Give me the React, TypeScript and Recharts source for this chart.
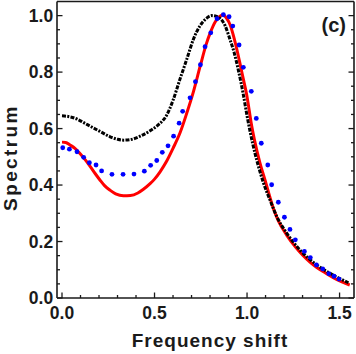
import React from 'react';
import { ComposedChart, Line, XAxis, YAxis } from 'recharts';

// ---- data ----
const redX = [0, 0.02, 0.043, 0.07, 0.097, 0.125, 0.151, 0.18, 0.205, 0.23, 0.259, 0.29, 0.332, 0.37, 0.41, 0.44, 0.476, 0.5, 0.53, 0.566, 0.6, 0.638, 0.674, 0.71, 0.746, 0.78, 0.8, 0.83, 0.854, 0.87, 0.89, 0.91, 0.926, 0.945, 0.962, 0.98, 0.998, 1.025, 1.04, 1.07, 1.097, 1.142, 1.17, 1.215, 1.26, 1.3, 1.34, 1.377, 1.42, 1.466, 1.51, 1.555];
const redY = [0.552, 0.551, 0.542, 0.53, 0.512, 0.49, 0.467, 0.44, 0.418, 0.398, 0.382, 0.369, 0.362, 0.363, 0.372, 0.385, 0.405, 0.421, 0.447, 0.485, 0.53, 0.585, 0.654, 0.73, 0.819, 0.9, 0.937, 0.98, 0.998, 1.003, 0.99, 0.965, 0.93, 0.88, 0.83, 0.775, 0.72, 0.61, 0.56, 0.478, 0.418, 0.318, 0.272, 0.222, 0.182, 0.152, 0.127, 0.108, 0.09, 0.072, 0.058, 0.046];

const blackX = [0, 0.04, 0.08, 0.12, 0.151, 0.205, 0.26, 0.3, 0.333, 0.37, 0.422, 0.476, 0.52, 0.566, 0.6, 0.638, 0.674, 0.71, 0.746, 0.78, 0.81, 0.835, 0.854, 0.881, 0.908, 0.93, 0.953, 0.98, 1.0, 1.03, 1.06, 1.09, 1.124, 1.161, 1.215, 1.286, 1.377, 1.466, 1.548];
const blackY = [0.645, 0.642, 0.634, 0.62, 0.609, 0.59, 0.571, 0.562, 0.559, 0.561, 0.573, 0.592, 0.613, 0.648, 0.7, 0.776, 0.845, 0.916, 0.964, 0.99, 1.0, 0.997, 0.99, 0.965, 0.915, 0.87, 0.807, 0.72, 0.645, 0.548, 0.47, 0.405, 0.347, 0.288, 0.229, 0.17, 0.117, 0.081, 0.054];

const blueX = [0.004, 0.04, 0.081, 0.117, 0.148, 0.184, 0.214, 0.27, 0.33, 0.389, 0.445, 0.479, 0.512, 0.542, 0.573, 0.603, 0.633, 0.652, 0.692, 0.721, 0.748, 0.773, 0.804, 0.838, 0.872, 0.903, 0.923, 0.957, 0.98, 1.023, 1.05, 1.077, 1.112, 1.133, 1.169, 1.202, 1.232, 1.261, 1.31, 1.342, 1.375, 1.409, 1.442, 1.47, 1.497];
const blueY = [0.532, 0.527, 0.518, 0.498, 0.479, 0.471, 0.45, 0.438, 0.438, 0.439, 0.449, 0.47, 0.487, 0.516, 0.539, 0.573, 0.619, 0.661, 0.709, 0.766, 0.826, 0.89, 0.939, 0.989, 1.003, 0.996, 0.963, 0.896, 0.817, 0.732, 0.636, 0.548, 0.471, 0.401, 0.339, 0.286, 0.243, 0.206, 0.165, 0.143, 0.117, 0.103, 0.086, 0.077, 0.067];

const xMajorTicks = [0, 0.5, 1.0, 1.5];
const xMajorLabels = ['0.0', '0.5', '1.0', '1.5'];
const xMinorTicks = [0, 0.1, 0.2, 0.3, 0.4, 0.5, 0.6, 0.7, 0.8, 0.9, 1.0, 1.1, 1.2, 1.3, 1.4, 1.5];
const yMajorTicks = [0, 0.2, 0.4, 0.6, 0.8, 1.0];
const yMajorLabels = ['0.0', '0.2', '0.4', '0.6', '0.8', '1.0'];
const yMinorTicks = [0, 0.05, 0.1, 0.15, 0.2, 0.25, 0.3, 0.35, 0.4, 0.45, 0.5, 0.55, 0.6, 0.65, 0.7, 0.75, 0.8, 0.85, 0.9, 0.95, 1.0];

const xDomain: [number, number] = [-0.027, 1.578];
const yDomain: [number, number] = [0, 1.05];

const redData = redX.map((x, i) => ({ x, y: redY[i] }));
const blackData = blackX.map((x, i) => ({ x, y: blackY[i] }));
const blueData = blueX.map((x, i) => ({ x, y: blueY[i] }));

const FRAME = '#1a1a1a';
const FONT = '"Liberation Sans", Arial, Helvetica, sans-serif';
const MAJOR_LEN = 5.5;
const MINOR_LEN = 3;

function majorIndex(list: number[], v: number) {
  return list.findIndex((m) => Math.abs(m - v) < 1e-9);
}

function BottomTick(props: any) {
  const { x, y, payload } = props;
  const idx = majorIndex(xMajorTicks, payload.value);
  const len = idx >= 0 ? MAJOR_LEN : MINOR_LEN;
  return (
    <g>
      <line x1={x} x2={x} y1={y} y2={y - len} stroke={FRAME} strokeWidth={1.3} />
      {idx >= 0 && (
        <text x={x} y={y + 21.2} textAnchor="middle" fontFamily={FONT} fontWeight="bold" fontSize={17.5} fill={FRAME}>
          {xMajorLabels[idx]}
        </text>
      )}
    </g>
  );
}

function TopTick(props: any) {
  const { x, y, payload } = props;
  const idx = majorIndex(xMajorTicks, payload.value);
  const len = idx >= 0 ? MAJOR_LEN : MINOR_LEN;
  return <line x1={x} x2={x} y1={y} y2={y + len} stroke={FRAME} strokeWidth={1.3} />;
}

function LeftTick(props: any) {
  const { x, y, payload } = props;
  const idx = majorIndex(yMajorTicks, payload.value);
  const len = idx >= 0 ? MAJOR_LEN : MINOR_LEN;
  return (
    <g>
      <line x1={x} x2={x + len} y1={y} y2={y} stroke={FRAME} strokeWidth={1.3} />
      {idx >= 0 && (
        <text x={x - 3.8} y={y + 6.3} textAnchor="end" fontFamily={FONT} fontWeight="bold" fontSize={17.5} fill={FRAME}>
          {yMajorLabels[idx]}
        </text>
      )}
    </g>
  );
}

function RightTick(props: any) {
  const { x, y, payload } = props;
  const idx = majorIndex(yMajorTicks, payload.value);
  const len = idx >= 0 ? MAJOR_LEN : MINOR_LEN;
  return <line x1={x} x2={x - len} y1={y} y2={y} stroke={FRAME} strokeWidth={1.3} />;
}

const axisLine = { stroke: FRAME, strokeWidth: 1.6 };

export default function App() {
  return (
    <div style={{ position: 'absolute', left: 0, top: 0, width: 356, height: 354, background: '#fff' }}>
      <ComposedChart width={356} height={354} margin={{ top: 0.5, right: 1, bottom: 0, left: 0 }}>
        <XAxis
          xAxisId={0}
          type="number"
          dataKey="x"
          domain={xDomain}
          allowDataOverflow
          ticks={xMinorTicks}
          interval={0}
          tickSize={0}
          tickMargin={0}
          tickLine={false}
          axisLine={axisLine}
          height={56}
          tick={<BottomTick />}
        />
        <XAxis
          xAxisId="top"
          orientation="top"
          type="number"
          domain={xDomain}
          allowDataOverflow
          ticks={xMinorTicks}
          interval={0}
          tickSize={0}
          tickMargin={0}
          tickLine={false}
          axisLine={axisLine}
          height={1}
          tick={<TopTick />}
        />
        <YAxis
          yAxisId={0}
          type="number"
          dataKey="y"
          domain={yDomain}
          allowDataOverflow
          ticks={yMinorTicks}
          interval={0}
          tickSize={0}
          tickMargin={0}
          tickLine={false}
          axisLine={axisLine}
          width={57}
          tick={<LeftTick />}
        />
        <YAxis
          yAxisId="right"
          orientation="right"
          type="number"
          domain={yDomain}
          allowDataOverflow
          ticks={yMinorTicks}
          interval={0}
          tickSize={0}
          tickMargin={0}
          tickLine={false}
          axisLine={axisLine}
          width={1}
          tick={<RightTick />}
        />
        <Line
          data={redData}
          dataKey="y"
          type="monotone"
          stroke="#ff0000"
          strokeWidth={3}
          dot={false}
          isAnimationActive={false}
        />
        <Line
          data={blackData}
          dataKey="y"
          type="monotone"
          stroke="#000000"
          strokeWidth={3}
          strokeDasharray="4 1.3 2 1.3"
          dot={false}
          isAnimationActive={false}
        />
        <Line
          data={blueData}
          dataKey="y"
          type="monotone"
          stroke="none"
          dot={{ r: 2.4, fill: '#0000ff', stroke: 'none' }}
          isAnimationActive={false}
        />
      </ComposedChart>
      <svg width={356} height={354} style={{ position: 'absolute', left: 0, top: 0, pointerEvents: 'none' }}>
        <text x={210} y={347} textAnchor="middle" fontFamily={FONT} fontWeight="bold" fontSize={19} letterSpacing={1} fill={FRAME}>
          Frequency shift
        </text>
        <text transform="translate(16.5,157.5) rotate(-90)" textAnchor="middle" fontFamily={FONT} fontWeight="bold" fontSize={19} letterSpacing={2.4} fill={FRAME}>
          Spectrum
        </text>
        <text x={333.7} y={31.5} textAnchor="middle" fontFamily={FONT} fontWeight="bold" fontSize={20} fill={FRAME}>
          (c)
        </text>
      </svg>
    </div>
  );
}
